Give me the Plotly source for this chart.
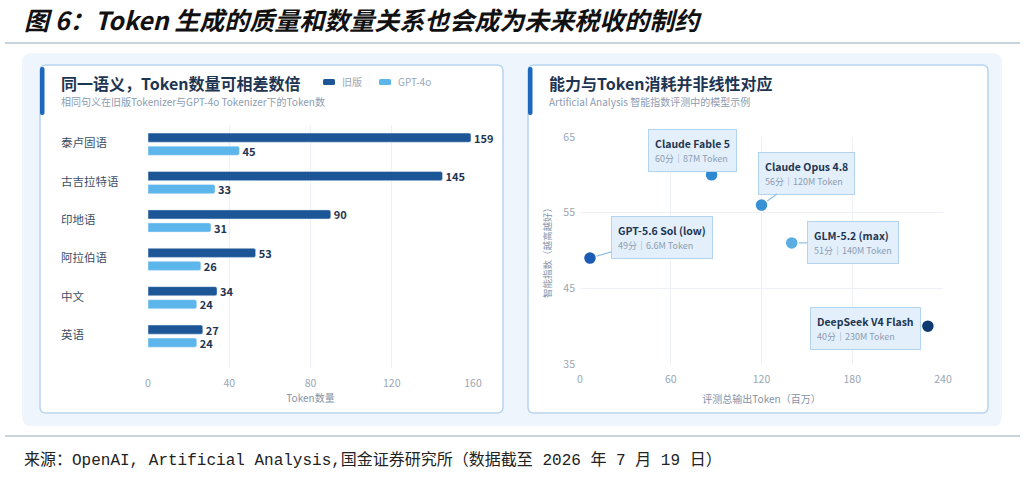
import plotly.graph_objects as go

W, H = 1024, 479

# ---------------- data ----------------
categories = ["泰卢固语", "古吉拉特语", "印地语", "阿拉伯语", "中文", "英语"]
old_tokens = [159, 145, 90, 53, 34, 27]
gpt4o_tokens = [45, 33, 31, 26, 24, 24]
series_names = ["旧版", "GPT-4o"]
left_ticks = [0, 40, 80, 120, 160]

models = ["GPT-5.6 Sol (low)", "Claude Fable 5", "Claude Opus 4.8", "GLM-5.2 (max)", "DeepSeek V4 Flash"]
output_tokens_m = [6.6, 87, 120, 140, 230]
intel_scores = [49, 60, 56, 51, 40]
token_labels = ["6.6M", "87M", "120M", "140M", "230M"]
right_xticks = [0, 60, 120, 180, 240]
right_yticks = [35, 45, 55, 65]

# ---------------- styles ----------------
CJK = "Noto Sans CJK SC, Noto Sans, sans-serif"
DARK = "#1c5697"
LIGHT = "#5cb6ec"
TXT = "#1e3552"
GRAY = "#8d9cb0"
model_colors = ["#1a5cb5", "#2f89d1", "#3991d5", "#5aaee2", "#0e3a70"]
label_offsets = [(72, -21), (-19, -24), (45, -32), (61, 0), (-62, 2)]


def px(x):
    return x / W


def py(y):
    return 1 - y / H


def rrect(x0, y0, x1, y1, r):
    rx, ry = r / W, r / H
    X0, X1 = px(x0), px(x1)
    Y0, Y1 = py(y0), py(y1)
    return (f"M{X0+rx},{Y0} L{X1-rx},{Y0} Q{X1},{Y0} {X1},{Y0-ry} "
            f"L{X1},{Y1+ry} Q{X1},{Y1} {X1-rx},{Y1} L{X0+rx},{Y1} "
            f"Q{X0},{Y1} {X0},{Y1+ry} L{X0},{Y0-ry} Q{X0},{Y0} {X0+rx},{Y0} Z")


fig = go.Figure()

bar_text_font = dict(family=CJK, size=11, color=TXT, weight="bold")
for name, vals, col in zip(series_names, [old_tokens, gpt4o_tokens], [DARK, LIGHT]):
    fig.add_trace(go.Bar(
        y=categories, x=vals, orientation="h", name=name,
        marker=dict(color=col), xaxis="x", yaxis="y",
        text=vals, textposition="outside", cliponaxis=False, constraintext="none",
        textfont=bar_text_font, hoverinfo="skip", showlegend=False,
    ))

fig.add_trace(go.Scatter(
    x=output_tokens_m, y=intel_scores, mode="markers", xaxis="x2", yaxis="y2",
    marker=dict(size=13, color=model_colors, line=dict(color="white", width=1.5)),
    showlegend=False, hoverinfo="skip", cliponaxis=False,
))

shapes = []
shapes.append(dict(type="line", xref="paper", yref="paper", x0=px(5), x1=px(1020), y0=py(43), y1=py(43),
                   line=dict(color="#c9d3dc", width=2), layer="below"))
shapes.append(dict(type="line", xref="paper", yref="paper", x0=px(5), x1=px(1020), y0=py(436), y1=py(436),
                   line=dict(color="#c9d3dc", width=2), layer="below"))
shapes.append(dict(type="path", xref="paper", yref="paper", path=rrect(22, 53, 1002, 426, 10),
                   fillcolor="#eef5fc", line=dict(width=0), layer="below"))
for (x0, x1) in [(40, 503), (528, 988)]:
    shapes.append(dict(type="path", xref="paper", yref="paper", path=rrect(x0, 65, x1, 413, 6),
                       fillcolor="white", line=dict(color="#b7d5f0", width=1.5), layer="below"))
    shapes.append(dict(type="path", xref="paper", yref="paper", path=rrect(x0, 67, x0 + 4.5, 115, 2),
                       fillcolor="#1f67bd", line=dict(width=0), layer="below"))

annotations = []
# legend (left card)
for name, col, sx in zip(series_names, [DARK, LIGHT], [323, 379]):
    shapes.append(dict(type="path", xref="paper", yref="paper", path=rrect(sx, 79, sx + 12, 85, 1.5),
                       fillcolor=col, line=dict(width=0), layer="above"))
    annotations.append(dict(xref="paper", yref="paper", x=px(sx + 17), y=py(82), xanchor="left",
                            yanchor="middle", text=name, showarrow=False,
                            font=dict(family=CJK, size=10, color="#9aa8b8")))

annotations.append(dict(xref="paper", yref="paper", x=px(22), y=py(19), xanchor="left", yanchor="middle",
                        text="<b><i>图 6：Token 生成的质量和数量关系也会成为未来税收的制约</i></b>",
                        showarrow=False, font=dict(family=CJK, size=25, color="#111")))
annotations.append(dict(xref="paper", yref="paper", x=px(22), y=py(460), xanchor="left", yanchor="middle",
                        text="来源：OpenAI, Artificial Analysis,国金证券研究所（数据截至 2026 年 7 月 19 日）",
                        showarrow=False,
                        font=dict(family="Liberation Mono, Noto Sans CJK SC, monospace", size=16, color="#222")))
annotations.append(dict(xref="paper", yref="paper", x=px(59), y=py(83), xanchor="left", yanchor="middle",
                        text="<b>同一语义，Token数量可相差数倍</b>", showarrow=False,
                        font=dict(family=CJK, size=16, color=TXT)))
annotations.append(dict(xref="paper", yref="paper", x=px(59), y=py(102), xanchor="left", yanchor="middle",
                        text="相同句义在旧版Tokenizer与GPT-4o Tokenizer下的Token数", showarrow=False,
                        font=dict(family=CJK, size=10, color=GRAY)))
annotations.append(dict(xref="paper", yref="paper", x=px(547), y=py(83), xanchor="left", yanchor="middle",
                        text="<b>能力与Token消耗并非线性对应</b>", showarrow=False,
                        font=dict(family=CJK, size=16, color=TXT)))
annotations.append(dict(xref="paper", yref="paper", x=px(547), y=py(102), xanchor="left", yanchor="middle",
                        text="Artificial Analysis 智能指数评测中的模型示例", showarrow=False,
                        font=dict(family=CJK, size=10, color=GRAY)))
for c in categories:
    annotations.append(dict(xref="paper", yref="y", x=px(59), y=c, xanchor="left", yanchor="middle",
                            yshift=2, text=c, showarrow=False, font=dict(family=CJK, size=11.5, color="#3d4f66")))
for m, xv, yv, tl, (ax, ay) in zip(models, output_tokens_m, intel_scores, token_labels, label_offsets):
    annotations.append(dict(
        xref="x2", yref="y2", x=xv, y=yv, ax=ax, ay=ay, showarrow=True, arrowhead=0,
        arrowcolor="#8fc2ea", arrowwidth=1.2, standoff=7, align="left",
        text=f"<b>{m}</b><br><span style='font-size:9px;color:#8d9cb0'>{yv}分｜{tl} Token</span>",
        font=dict(family=CJK, size=10.5, color=TXT),
        bgcolor="#e3f0fc", bordercolor="#b3d4f1", borderwidth=1, borderpad=6,
    ))

axis_font = dict(family=CJK, size=10.5, color="#9aa6b4")
title_font = dict(family=CJK, size=10, color="#8593a6")

fig.update_layout(
    width=W, height=H, autosize=False,
    margin=dict(l=0, r=0, t=0, b=0, pad=0, autoexpand=False),
    paper_bgcolor="white", plot_bgcolor="rgba(0,0,0,0)",
    barmode="group", bargap=0.32, bargroupgap=0.3, barcornerradius=2,
    shapes=shapes, annotations=annotations,
    showlegend=False,
    xaxis=dict(domain=[px(148), px(473)], range=[0, 160], tickvals=left_ticks, automargin=False,
               showgrid=True, gridcolor="#edf1f6", gridwidth=1, zeroline=False, showline=False,
               tickfont=axis_font, anchor="y", ticklabelstandoff=7,
               title=dict(text="Token数量", font=title_font, standoff=4)),
    yaxis=dict(domain=[py(368), py(125)], range=[5.83, -0.5], showticklabels=False, automargin=False,
               showgrid=False, zeroline=False, anchor="x"),
    xaxis2=dict(domain=[px(580), px(943)], range=[0, 240], tickvals=right_xticks, automargin=False,
                showgrid=True, gridcolor="#edf1f6", zeroline=False, showline=False,
                tickfont=axis_font, anchor="y2", ticklabelstandoff=7,
                title=dict(text="评测总输出Token（百万）", font=title_font, standoff=11)),
    yaxis2=dict(domain=[py(364), py(137)], range=[35, 65], tickvals=right_yticks, automargin=False,
                showgrid=True, gridcolor="#edf1f6", zeroline=False, showline=False,
                tickfont=axis_font, anchor="x2", ticklabelstandoff=4,
                title=dict(text="智能指数（越高越好）", font=dict(family=CJK, size=9.5, color="#8593a6"), standoff=10)),
)

fig.write_html("out.html", config={"displayModeBar": False},
               post_script="document.body.style.margin='0px';")
